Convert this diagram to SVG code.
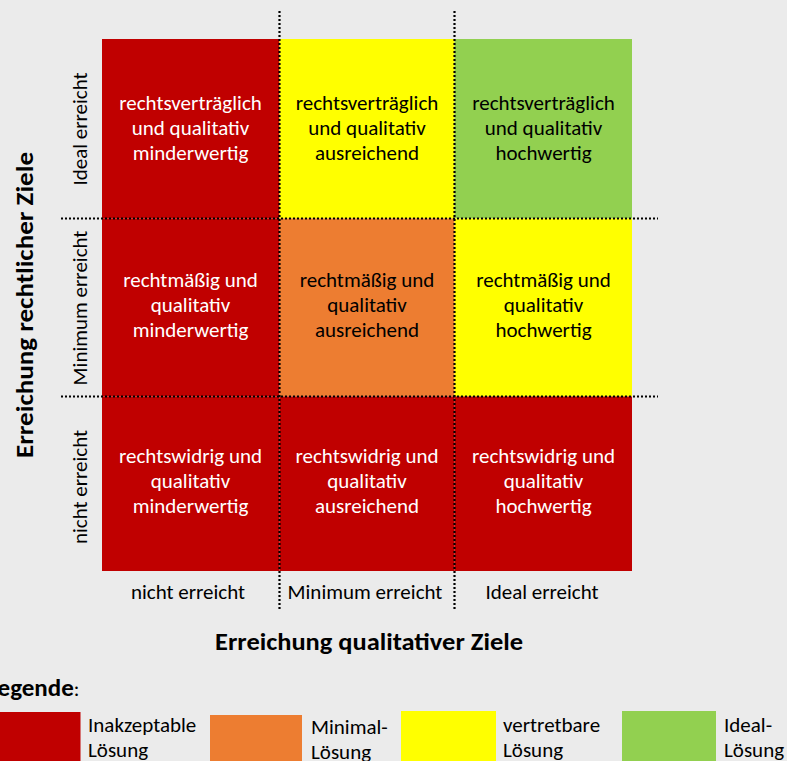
<svg xmlns="http://www.w3.org/2000/svg" width="787" height="761" viewBox="0 0 787 761">
<style>
.t{font-family:Calibri,Carlito,Lato,"Liberation Sans",sans-serif;font-size:21px;text-anchor:middle}
.w{fill:#ffffff}
.k{fill:#000000}
.b{font-weight:bold;font-size:25px}
.lg{font-family:Calibri,Carlito,Lato,"Liberation Sans",sans-serif;font-size:21px;fill:#000}
.red{fill:#c00000}
.yel{fill:#ffff00}
.org{fill:#ed7d31}
.grn{fill:#92d050}
.dot{stroke:#000;stroke-width:2.2;stroke-dasharray:2 2;fill:none}
</style>
<rect x="0" y="0" width="787" height="761" fill="#ebebeb"/>

<g id="cell-r1c1"><rect class="red" x="102" y="39" width="177.5" height="179.5"/>
<text class="t w"><tspan x="190.5" y="110">rechtsverträglich</tspan><tspan x="190.5" y="135">und qualitativ</tspan><tspan x="190.5" y="160">minderwertig</tspan></text></g>
<g id="cell-r1c2"><rect class="yel" x="279.5" y="39" width="175" height="179.5"/>
<text class="t k"><tspan x="367" y="110">rechtsverträglich</tspan><tspan x="367" y="135">und qualitativ</tspan><tspan x="367" y="160">ausreichend</tspan></text></g>
<g id="cell-r1c3"><rect class="grn" x="454.5" y="39" width="177.5" height="179.5"/>
<text class="t k"><tspan x="543.5" y="110">rechtsverträglich</tspan><tspan x="543.5" y="135">und qualitativ</tspan><tspan x="543.5" y="160">hochwertig</tspan></text></g>

<g id="cell-r2c1"><rect class="red" x="102" y="218.5" width="177.5" height="178"/>
<text class="t w"><tspan x="190.5" y="287">rechtmäßig und</tspan><tspan x="190.5" y="312">qualitativ</tspan><tspan x="190.5" y="337">minderwertig</tspan></text></g>
<g id="cell-r2c2"><rect class="org" x="279.5" y="218.5" width="175" height="178"/>
<text class="t k"><tspan x="367" y="287">rechtmäßig und</tspan><tspan x="367" y="312">qualitativ</tspan><tspan x="367" y="337">ausreichend</tspan></text></g>
<g id="cell-r2c3"><rect class="yel" x="454.5" y="218.5" width="177.5" height="178"/>
<text class="t k"><tspan x="543.5" y="287">rechtmäßig und</tspan><tspan x="543.5" y="312">qualitativ</tspan><tspan x="543.5" y="337">hochwertig</tspan></text></g>

<g id="cell-r3c1"><rect class="red" x="102" y="396.5" width="177.5" height="174.5"/>
<text class="t w"><tspan x="190.5" y="463">rechtswidrig und</tspan><tspan x="190.5" y="488">qualitativ</tspan><tspan x="190.5" y="513">minderwertig</tspan></text></g>
<g id="cell-r3c2"><rect class="red" x="279.5" y="396.5" width="175" height="174.5"/>
<text class="t w"><tspan x="367" y="463">rechtswidrig und</tspan><tspan x="367" y="488">qualitativ</tspan><tspan x="367" y="513">ausreichend</tspan></text></g>
<g id="cell-r3c3"><rect class="red" x="454.5" y="396.5" width="177.5" height="174.5"/>
<text class="t w"><tspan x="543.5" y="463">rechtswidrig und</tspan><tspan x="543.5" y="488">qualitativ</tspan><tspan x="543.5" y="513">hochwertig</tspan></text></g>

<g id="connectors">
<line class="dot" x1="279.5" y1="11" x2="279.5" y2="611"/>
<line class="dot" x1="454.5" y1="11" x2="454.5" y2="611"/>
<line class="dot" x1="61" y1="218.5" x2="658" y2="218.5"/>
<line class="dot" x1="61" y1="396.5" x2="658" y2="396.5"/>
</g>

<g id="row-labels">
<text class="t k" transform="translate(87,129) rotate(-90)" x="0" y="0">Ideal erreicht</text>
<text class="t k" transform="translate(87,308) rotate(-90)" x="0" y="0">Minimum erreicht</text>
<text class="t k" transform="translate(87,487) rotate(-90)" x="0" y="0">nicht erreicht</text>
</g>
<g id="col-labels">
<text class="t k" x="188" y="599">nicht erreicht</text>
<text class="t k" x="365" y="599">Minimum erreicht</text>
<text class="t k" x="542" y="599">Ideal erreicht</text>
</g>
<g id="axis-y"><text class="t k b" transform="translate(33,305) rotate(-90)" x="0" y="0" textLength="306" lengthAdjust="spacingAndGlyphs">Erreichung rechtlicher Ziele</text></g>
<g id="axis-x"><text class="t k b" x="369" y="650" textLength="308" lengthAdjust="spacingAndGlyphs">Erreichung qualitativer Ziele</text></g>

<g id="legend">
<text class="lg" x="-13" y="696"><tspan font-weight="bold" font-size="25">Legende</tspan>:</text>
<rect class="red" x="-5" y="712" width="85.5" height="60"/>
<text class="lg" x="88" y="732">Inakzeptable</text><text class="lg" x="88" y="757">Lösung</text>
<rect class="org" x="210" y="715" width="92" height="60"/>
<text class="lg" x="311" y="734">Minimal-</text><text class="lg" x="311" y="759">Lösung</text>
<rect class="yel" x="401" y="711" width="95" height="60"/>
<text class="lg" x="503" y="732">vertretbare</text><text class="lg" x="503" y="757">Lösung</text>
<rect class="grn" x="622" y="711" width="94" height="60"/>
<text class="lg" x="724" y="732">Ideal-</text><text class="lg" x="724" y="757">Lösung</text>
</g>
</svg>
